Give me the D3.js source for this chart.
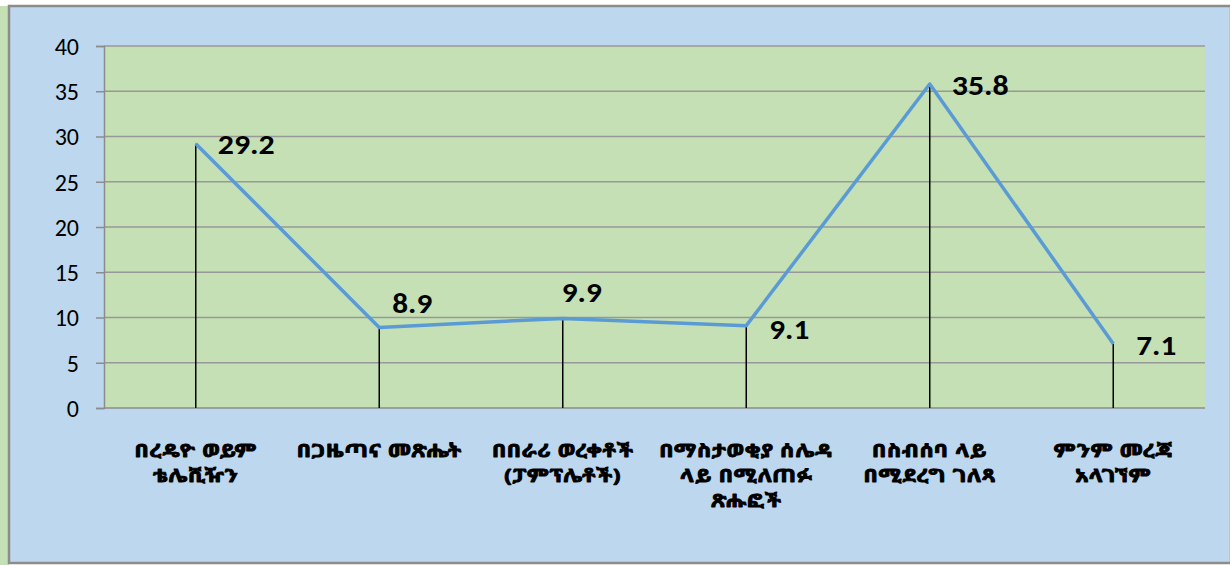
<!DOCTYPE html>
<html>
<head>
<meta charset="utf-8">
<script src="https://cdn.jsdelivr.net/npm/d3@7/dist/d3.min.js"></script>
<style>
  html, body { margin: 0; padding: 0; background: #ffffff; }
  svg { display: block; }
</style>
</head>
<body>
<svg id="chart" width="1230" height="565"></svg>
<script>
// ---- data ----
const categories = [
  ["በረዴዮ ወይም", "ቴሌቪዥን"],
  ["በጋዜጣና መጽሔት"],
  ["በበራሪ ወረቀቶች", "(ፓምፕሌቶች)"],
  ["በማስታወቂያ ሰሌዳ", "ላይ በሚለጠፉ", "ጽሑፎች"],
  ["በስብሰባ ላይ", "በሚደረግ ገለጻ"],
  ["ምንም መረጃ", "አላገኘም"]
];
const values = [29.2, 8.9, 9.9, 9.1, 35.8, 7.1];
const valueLabels = ["29.2", "8.9", "9.9", "9.1", "35.8", "7.1"];
const yTicks = [0, 5, 10, 15, 20, 25, 30, 35, 40];

// ---- layout ----
const svg = d3.select("#chart");
const W = 1230, H = 565;
const plot = { left: 104, right: 1205, top: 46, bottom: 408 };
// label offsets (dx from point to label start, dy from point to label digit centre)
const labelOffsets = [[22, 0], [13, -25], [-1, -27], [23, 3], [22, 1], [23, 1]];

// outer background
svg.append("rect").attr("x", 0).attr("y", 6).attr("width", 9).attr("height", H - 6).attr("fill", "#C5E0B4");
svg.append("rect").attr("x", 9).attr("y", 6).attr("width", W - 8).attr("height", H - 8)
  .attr("fill", "#BDD7EE").attr("stroke", "#8C8C8C").attr("stroke-width", 2.5);

const idx = d3.range(categories.length);
const x = d3.scaleBand().domain(idx).range([plot.left, plot.right]).padding(0);
const y = d3.scaleLinear().domain([0, 40]).range([plot.bottom, plot.top]);
const cx = i => x(i) + x.bandwidth() / 2;

// plot area
svg.append("rect").attr("x", plot.left).attr("y", plot.top)
  .attr("width", plot.right - plot.left).attr("height", plot.bottom - plot.top)
  .attr("fill", "#C5E0B4");

// gridlines
svg.append("g").selectAll("line").data(yTicks.filter(t => t > 0)).join("line")
  .attr("x1", plot.left).attr("x2", plot.right)
  .attr("y1", d => y(d)).attr("y2", d => y(d))
  .attr("stroke", "#989898").attr("stroke-width", 1.5);

// y axis
const yAxis = d3.axisLeft(y).tickValues(yTicks).tickSize(8).tickPadding(17);
const ga = svg.append("g").attr("transform", `translate(${plot.left},0)`).call(yAxis);
ga.select(".domain").attr("stroke", "#8C8C8C").attr("stroke-width", 1.5);
ga.selectAll(".tick line").attr("stroke", "#8C8C8C").attr("stroke-width", 1.5);
ga.selectAll(".tick text").attr("font-family", "Carlito, Lato, 'Open Sans', sans-serif")
  .attr("font-size", 24).attr("fill", "#000").attr("dy", "0.35em");

// x axis baseline
svg.append("line").attr("x1", plot.left).attr("x2", plot.right)
  .attr("y1", y(0)).attr("y2", y(0)).attr("stroke", "#8C8C8C").attr("stroke-width", 1.5);

// drop lines
svg.append("g").selectAll("line").data(values).join("line")
  .attr("x1", (d, i) => cx(i)).attr("x2", (d, i) => cx(i))
  .attr("y1", d => y(d)).attr("y2", y(0))
  .attr("stroke", "#000").attr("stroke-width", 1.5);

// line
const line = d3.line().x((d, i) => cx(i)).y(d => y(d));
svg.append("path").datum(values).attr("d", line)
  .attr("fill", "none").attr("stroke", "#5B9BD5").attr("stroke-width", 3.5)
  .attr("stroke-linejoin", "round");

// value labels
const vfs = 29;
svg.append("g").selectAll("text").data(values).join("text")
  .attr("x", (d, i) => cx(i) + labelOffsets[i][0])
  .attr("y", (d, i) => y(d) + labelOffsets[i][1] + vfs * 0.36)
  .attr("text-anchor", "start")
  .attr("font-family", "Carlito, Lato, 'Open Sans', sans-serif")
  .attr("font-weight", "bold").attr("font-size", vfs).attr("fill", "#000")
  .attr("textLength", (d, i) => valueLabels[i].length === 4 ? 57 : 40)
  .attr("lengthAdjust", "spacingAndGlyphs")
  .text((d, i) => valueLabels[i]);

// category labels (one text element per line, stretched horizontally)
const lines = [];
categories.forEach((c, i) => c.forEach((s, j) => lines.push({ s, i, j })));
const sx = 1.22;
svg.append("g").selectAll("text").data(lines).join("text")
  .attr("transform", d => `translate(${cx(d.i)},${457 + d.j * 25}) scale(${sx},1)`)
  .attr("text-anchor", "middle")
  .attr("font-family", "'Noto Sans Ethiopic', 'Abyssinica SIL', 'DejaVu Sans', sans-serif")
  .attr("font-weight", "bold").attr("font-size", 18).attr("fill", "#000")
  .attr("letter-spacing", 0.6)
  .attr("stroke", "#000").attr("stroke-width", 0.9).attr("stroke-linejoin", "round")
  .text(d => d.s);
</script>
</body>
</html>
